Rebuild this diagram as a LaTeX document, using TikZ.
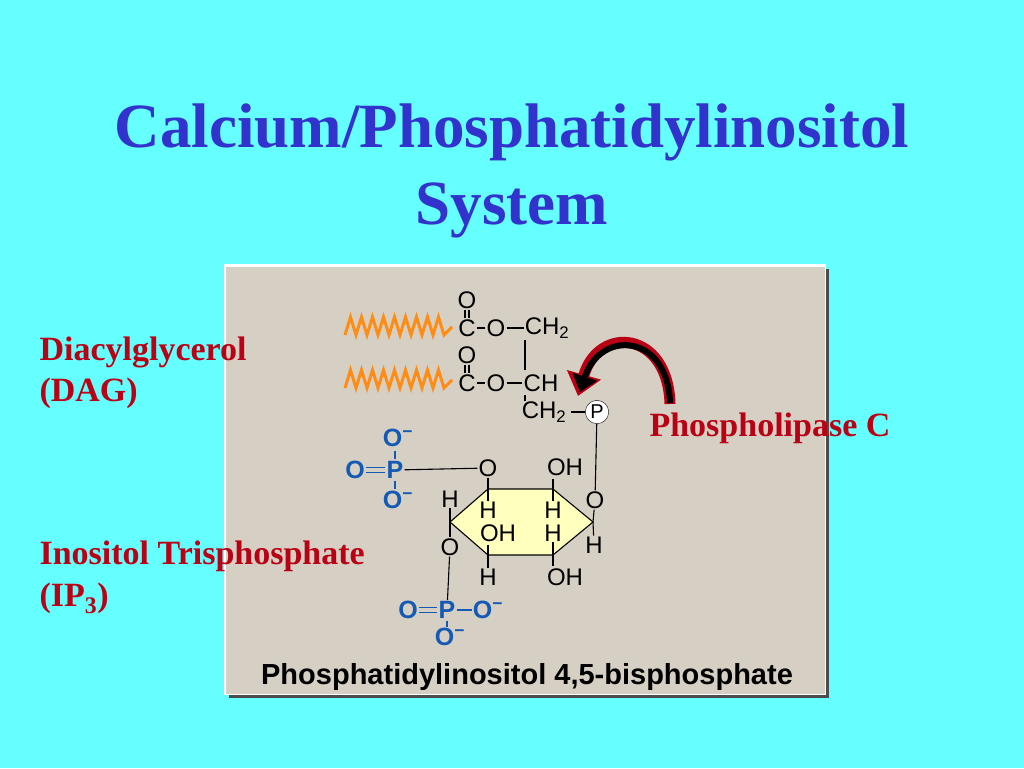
\documentclass[tikz,border=0pt]{standalone}
\usepackage{fontspec}
\setmainfont{Liberation Serif}
\setsansfont{Liberation Sans}
\usetikzlibrary{arrows.meta}
\definecolor{bgcyan}{RGB}{102,255,255}
\definecolor{titleblue}{RGB}{50,50,205}
\definecolor{labred}{RGB}{185,0,20}
\definecolor{panel}{RGB}{214,208,196}
\definecolor{ringfill}{RGB}{255,255,190}
\definecolor{phblue}{RGB}{20,90,180}
\definecolor{chainorange}{RGB}{255,140,20}
\begin{document}
\begin{tikzpicture}[x=1pt,y=-1pt,
  title/.style={text=titleblue,font=\fontsize{63}{65}\selectfont\bfseries},
  lab/.style={anchor=west,text=labred,font=\fontsize{34}{36}\selectfont\bfseries},
  atom/.style={inner sep=1pt,font=\sffamily\fontsize{24}{24}\selectfont},
  patom/.style={inner sep=1pt,text=phblue,font=\sffamily\bfseries\fontsize{25}{25}\selectfont},
  bond/.style={line width=1.1pt},
  chain/.style={chainorange,line width=3pt,line join=miter}]
  \fill[bgcyan] (0,0) rectangle (1024,768);
  \useasboundingbox (0,0) rectangle (1024,768);
  % title
  \node[title] (t1) at (512,132) {Calcium/Phosphatidylinositol};
  \node[title] (t2) at (512,210) {System};
  % panel
  \fill[gray!60!black] (229,269) rectangle (829,698);
  \fill[white] (224,264) rectangle (826,695);
  \fill[panel] (226,267) rectangle (825,694);
  % labels
  \node[lab] (dag1) at (36,352) {Diacylglycerol};
  \node[lab] (dag2) at (36,393) {(DAG)};
  \node[lab] (plc) at (646,428) {Phospholipase C};
  \node[lab] (ip1) at (36,556) {Inositol Trisphosphate};
  \node[lab] (ip2) at (36,598) {(IP\textsubscript{3})};
  \node[font=\sffamily\bfseries\fontsize{29}{30}\selectfont] (cap) at (527,677) {Phosphatidylinositol 4,5-bisphosphate};
  % fatty acid chains
  \foreach \y in {327,380}
    \draw[chain] (345,\y+8) \foreach \i in {0,...,8} {-- ++(5.5,-18) -- ++(5.5,18)} -- ++(8,-8);
  % glycerol backbone
  \node[atom] (c1) at (467,328) {C};
  \node[atom] (o1) at (467,300) {O};
  \node[atom] (oe1) at (496,328) {O};
  \node[atom] (ch2a) at (547,328) {CH\textsubscript{2}};
  \node[atom] (c2) at (467,383) {C};
  \node[atom] (o2) at (467,355) {O};
  \node[atom] (oe2) at (496,383) {O};
  \node[atom] (ch) at (541,383) {CH};
  \node[atom] (ch2b) at (544,412) {CH\textsubscript{2}};
  \node[circle,draw,fill=white,inner sep=1.5pt,font=\sffamily\fontsize{20}{20}\selectfont] (p) at (597,412) {P};
  \draw[bond] ([xshift=-2]o1.south) -- ([xshift=-2]c1.north) ([xshift=2]o1.south) -- ([xshift=2]c1.north);
  \draw[bond] ([xshift=-2]o2.south) -- ([xshift=-2]c2.north) ([xshift=2]o2.south) -- ([xshift=2]c2.north);
  \draw[bond] (c1) -- (oe1) (oe1) -- (ch2a);
  \draw[bond] (c2) -- (oe2) (oe2) -- (ch);
  \draw[bond] (525,340) -- (525,370) (525,395) -- (525,401);
  \draw[bond,shorten <=4pt] (ch2b) -- (p);
  % inositol ring
  \node[atom] (o6) at (595,500) {O};
  \draw[bond] (p) -- (o6);
  \draw[bond,fill=ringfill] (450,522) -- (488,489) -- (553,489) -- (593,522) -- (553,555) -- (488,555) -- cycle;
  \node[atom] (o4) at (488,468) {O};
  \node[atom] (oh1) at (565,467) {OH};
  \node[atom] (h1) at (450,499) {H};
  \node[atom] (h2) at (488,510) {H};
  \node[atom] (h3) at (553,510) {H};
  \node[atom] (oh2) at (498,533) {OH};
  \node[atom] (h4) at (553,533) {H};
  \node[atom] (o5) at (450,547) {O};
  \node[atom] (h5) at (594,545) {H};
  \node[atom] (h6) at (488,577) {H};
  \node[atom] (oh3) at (565,577) {OH};
  \draw[bond] (o4) -- (488,489) -- (h2);
  \draw[bond] (553,479) -- (553,489) -- (h3);
  \draw[bond] (h1) -- (450,522) -- (o5);
  \draw[bond] (o6) -- (593,522) -- (h5);
  \draw[bond] (488,545) -- (488,555) -- (h6);
  \draw[bond] (h4) -- (553,555) -- (553,566);
  % phosphate groups
  \node[patom] (pa) at (395,470) {P};
  \node[patom] (pao1) at (398,438) {O\textsuperscript{\textminus}};
  \node[patom] (pao2) at (355,470) {O};
  \node[patom] (pao3) at (398,500) {O\textsuperscript{\textminus}};
  \draw[bond,phblue] (395,459) -- (395,451) (395,481) -- (395,489);
  \draw[bond,phblue] ([yshift=-2.5]pao2.east) -- ([yshift=-2.5]pa.west) ([yshift=2.5]pao2.east) -- ([yshift=2.5]pa.west);
  \draw[bond] (pa) -- (o4);
  \node[patom] (pb) at (447,610) {P};
  \node[patom] (pbo1) at (408,610) {O};
  \node[patom] (pbo2) at (488,610) {O\textsuperscript{\textminus}};
  \node[patom] (pbo3) at (450,637) {O\textsuperscript{\textminus}};
  \draw[bond] (o5) -- (pb);
  \draw[bond,phblue] (pb) -- (pbo2) (447,621) -- (447,627);
  \draw[bond,phblue] ([yshift=-2.5]pbo1.east) -- ([yshift=-2.5]pb.west) ([yshift=2.5]pbo1.east) -- ([yshift=2.5]pb.west);
  % enzyme arrow
  \draw[labred,line width=11pt,-{Triangle[length=22pt,width=34pt]}] (670,404) .. controls (668,330) and (598,325) .. (578,396);
  \draw[black,line width=6pt,-{Triangle[length=16pt,width=25pt]}] (670,403) .. controls (668,333) and (600,329) .. (580,392);
\end{tikzpicture}
\end{document}
